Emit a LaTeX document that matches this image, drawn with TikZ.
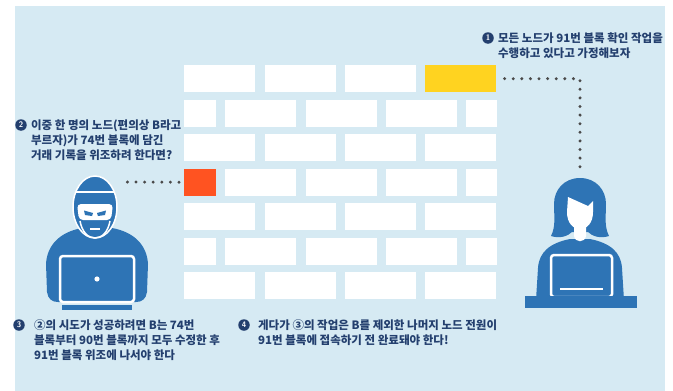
\documentclass[tikz,border=0pt]{standalone}
\usepackage{fontspec}
\newfontfamily\kr{Noto Sans CJK KR}
\usepackage{xcolor}
\usetikzlibrary{positioning}

\definecolor{bgblue}{HTML}{D6EAF3}
\definecolor{figblue}{HTML}{2E74B5}
\definecolor{navy}{HTML}{233F6E}
\definecolor{dotgray}{HTML}{4A4A4A}
\definecolor{blockyellow}{HTML}{FFD320}
\definecolor{blockred}{HTML}{FF5321}

\begin{document}
\begin{tikzpicture}[
    x=1pt, y=-1pt,
    node distance=9pt,
    brick/.style={fill=white, minimum width=71pt, minimum height=27pt, inner sep=0pt, anchor=north west},
    halfbrick/.style={brick, minimum width=31.5pt},
    endbrick/.style={brick, minimum width=30.5pt},
    dotline/.style={draw=dotgray, line width=3.3pt, line cap=round, dash pattern=on 0pt off 8.6pt},
    num/.style={circle, fill=navy, text=white, minimum size=11.5pt, inner sep=0pt, font=\sffamily\bfseries\fontsize{8}{8}\selectfont},
    note/.style={font=\kr\bfseries\fontsize{11.5}{15}\selectfont, text=navy, align=left, inner sep=0pt, anchor=north west},
]
\useasboundingbox (0,0) rectangle (673,391);
\fill[bgblue] (15,6) rectangle (665,391);

% chain of blocks
\node[brick] (r1a) at (184,65) {};
\node[brick, right=of r1a] (r1b) {}; \node[brick, right=of r1b] (r1c) {};
\node[brick, fill=blockyellow, right=of r1c] (blk91) {};

\node[halfbrick] (r2a) at (184,99.5) {};
\node[brick, right=of r2a] (r2b) {}; \node[brick, right=of r2b] (r2c) {};
\node[brick, right=of r2c] (r2d) {}; \node[endbrick, right=of r2d] (r2e) {};

\node[brick] (r3a) at (184,134) {};
\node[brick, right=of r3a] (r3b) {}; \node[brick, right=of r3b] (r3c) {};
\node[brick, right=of r3c] (r3d) {};

\node[halfbrick, fill=blockred] (blk74) at (184,168.5) {};
\node[brick, right=of blk74] (r4b) {}; \node[brick, right=of r4b] (r4c) {};
\node[brick, right=of r4c] (r4d) {}; \node[endbrick, right=of r4d] (r4e) {};

\node[brick] (r5a) at (184,203) {};
\node[brick, right=of r5a] (r5b) {}; \node[brick, right=of r5b] (r5c) {};
\node[brick, right=of r5c] (r5d) {};

\node[halfbrick] (r6a) at (184,237.5) {};
\node[brick, right=of r6a] (r6b) {}; \node[brick, right=of r6b] (r6c) {};
\node[brick, right=of r6c] (r6d) {}; \node[endbrick, right=of r6d] (r6e) {};

\node[brick] (r7a) at (184,272) {};
\node[brick, right=of r7a] (r7b) {}; \node[brick, right=of r7b] (r7c) {};
\node[brick, right=of r7c] (r7d) {};

% hacker (node B)
\fill[figblue] (82,228) .. controls (60,232) and (47,245) .. (46,264) -- (47,292)
    .. controls (48,299) and (52,302) .. (58,302) -- (136,302)
    .. controls (142,302) and (146,299) .. (147,292) -- (148,264)
    .. controls (147,245) and (134,232) .. (112,228) -- cycle;
\filldraw[fill=figblue, draw=white, line width=1.5pt] (95,207) ellipse [x radius=22, y radius=31];
\draw[white, line width=1.5pt] (76,192) -- (114,192);
\fill[white, rounded corners=4pt] (77,204) -- (113,204) -- (111,220) -- (79,220) -- cycle;
\fill[figblue] (84,210.5) -- (93,213) -- (92,216) -- (85,215) -- cycle;
\fill[figblue] (106,210.5) -- (97,213) -- (98,216) -- (105,215) -- cycle;
\draw[white, line width=1.5pt] (80,221) .. controls (82,232) and (88,238) .. (95,238)
    .. controls (102,238) and (108,232) .. (110,221);
\draw[white, line width=1.5pt] (90,229) -- (100,229);
\filldraw[fill=figblue, draw=white, line width=2.5pt, rounded corners=3pt] (60,256) rectangle (134,302);
\fill[white] (97,279) circle (2.6);
\fill[figblue] (62,305) rectangle (132,310);
\coordinate (hackerEar) at (122,182);

% honest node
\fill[figblue] (580,178) .. controls (596,178) and (606,190) .. (606,204)
    .. controls (606,216) and (604,226) .. (609,236) .. controls (600,239) and (592,236) .. (588,232)
    -- (572,232) .. controls (568,236) and (560,239) .. (551,236)
    .. controls (556,226) and (554,216) .. (554,204) .. controls (554,190) and (564,178) .. (580,178) -- cycle;
\fill[figblue] (570,239) .. controls (550,243) and (539,252) .. (538,268) -- (536,300)
    -- (624,300) -- (622,268) .. controls (621,252) and (610,243) .. (590,239) -- cycle;
\fill[white] (574,224) -- (574,236) .. controls (575,243) and (585,243) .. (586,236) -- (586,224) -- cycle;
\fill[white] (568,197) -- (588,206) -- (593,201) -- (593,212) .. controls (593,223) and (587,229) .. (580,229)
    .. controls (573,229) and (567,223) .. (567,212) -- cycle;
\filldraw[fill=figblue, draw=white, line width=2.5pt, rounded corners=3pt] (551,255) rectangle (612,297);
\draw[white, line width=1.5pt] (560,289) -- (603,289);
\fill[figblue] (525,296) rectangle (637,308);
\coordinate (womanTop) at (580,167);

% dotted links
\draw[dotline] ([xshift=8pt]blk91.east) -| (womanTop);
\draw[dotline] ([xshift=-5pt]blk74.west) -- (hackerEar);

% notes
\node[num] (n1) at (488,38) {1};
\node[note] (t1) at ([xshift=4pt, yshift=5.8pt]n1.east) {모든 노드가 91번 블록 확인 작업을\\수행하고 있다고 가정해보자};

\node[num] (n2) at (21,125) {2};
\node[note] (t2) at ([xshift=4pt, yshift=5.8pt]n2.east) {이중 한 명의 노드(편의상 B라고\\부르자)가 74번 블록에 담긴\\거래 기록을 위조하려 한다면?};

\node[num] (n3) at (19,325) {3};
\node[note] (t3) at ([xshift=9pt, yshift=5.8pt]n3.east) {②의 시도가 성공하려면 B는 74번\\블록부터 90번 블록까지 모두 수정한 후\\91번 블록 위조에 나서야 한다};

\node[num] (n4) at (244,325) {4};
\node[note] (t4) at ([xshift=8pt, yshift=5.8pt]n4.east) {게다가 ③의 작업은 B를 제외한 나머지 노드 전원이\\91번 블록에 접속하기 전 완료돼야 한다!};

\end{tikzpicture}
\end{document}
